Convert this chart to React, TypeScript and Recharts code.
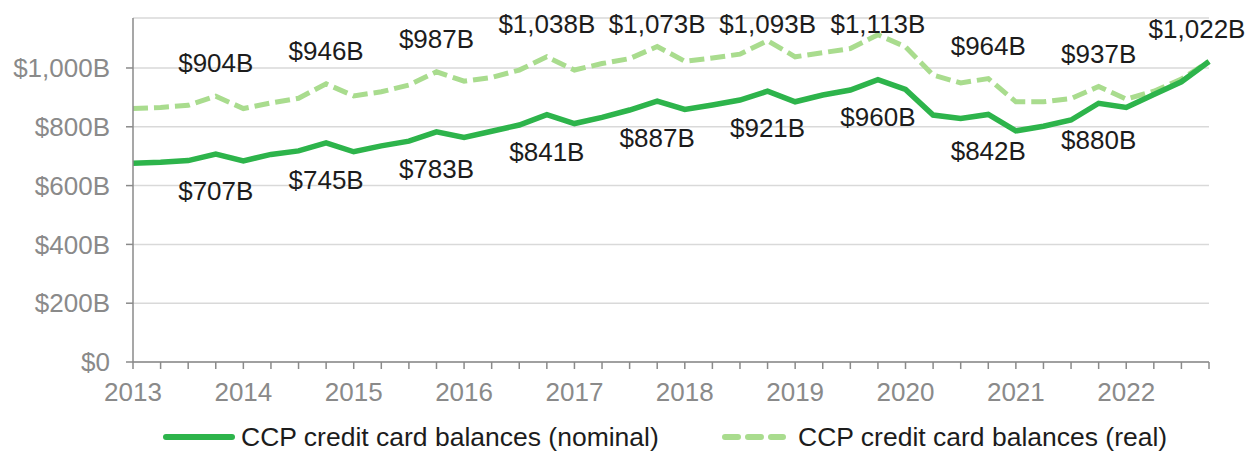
import React from 'react';
import { LineChart, Line, XAxis, YAxis, CartesianGrid, LabelList } from 'recharts';

// Quarterly categories 2013 Q1 .. 2022 Q4
const years = ['2013', '2014', '2015', '2016', '2017', '2018', '2019', '2020', '2021', '2022'];
const quarters = ['Q1', 'Q2', 'Q3', 'Q4'];

// Balances in $ billions
const nominal = [
  676, 679, 685, 707, 684, 706, 718, 745, 715, 735,
  751, 783, 764, 785, 806, 841, 811, 832, 857, 887,
  859, 874, 891, 921, 885, 908, 925, 960, 927, 840,
  828, 842, 786, 802, 823, 880, 866, 910, 953, 1022,
];
const real = [
  862, 866, 873, 904, 862, 881, 897, 946, 905, 919,
  942, 987, 955, 968, 993, 1038, 993, 1015, 1032, 1073,
  1023, 1034, 1047, 1093, 1038, 1052, 1066, 1113, 1072, 976,
  949, 964, 885, 885, 896, 937, 894, 921, 962, 1022,
];

const yTicks = [0, 200, 400, 600, 800, 1000];

const data = years
  .flatMap((y) => quarters.map((q) => `${y} ${q}`))
  .map((q, i) => ({ q, nominal: nominal[i], real: real[i] }));

const FONT = '"Liberation Sans", Arial, sans-serif';
const GREEN = '#2db44b';
const LIGHT = '#a9dc8e';
const AXIS = '#8a8a8a';
const TEXT = '#1c1c1c';

const money = (v: number) => (v === 0 ? '$0' : `$${v.toLocaleString('en-US')}B`);

// year-end (Q4) labels only; labels above are kept inside the top edge
const makeLabel = (pos: 'above' | 'below', skipLast: boolean) => (props: any) => {
  const { x, y, value, index } = props;
  if (index % 4 !== 3) return null;
  if (skipLast && index === data.length - 1) return null;
  const dx = index === data.length - 1 ? -12 : 0;
  const ly = pos === 'above' ? Math.max(y - 33, 24) : y + 37;
  return (
    <text
      x={x + dx}
      y={ly}
      textAnchor="middle"
      dominantBaseline="central"
      fontSize={26}
      fontFamily={FONT}
      fill={TEXT}
    >
      {money(value)}
    </text>
  );
};

const App = () => {
  return (
    <div style={{ position: 'absolute', left: 0, top: 0, width: 1256, height: 452, background: '#fff' }}>
      <LineChart width={1256} height={452} data={data} margin={{ top: 18, right: 47, left: 8, bottom: 60 }}>
        <CartesianGrid horizontal vertical={false} stroke="#d9d9d9" strokeWidth={1.5} />
        <XAxis
          dataKey="q"
          interval={0}
          height={30}
          tickSize={7}
          tickMargin={14}
          stroke={AXIS}
          strokeWidth={1.5}
          tick={{ fontSize: 26, fill: AXIS, fontFamily: FONT }}
          tickFormatter={(v: string) => (v.endsWith('Q1') ? v.slice(0, 4) : '')}
        />
        <YAxis
          width={125}
          domain={[0, 1170]}
          ticks={yTicks}
          tickSize={7}
          tickMargin={16}
          stroke={AXIS}
          strokeWidth={1.5}
          tick={{ fontSize: 26, fill: AXIS, fontFamily: FONT }}
          tickFormatter={money}
        />
        <Line
          type="linear"
          dataKey="real"
          stroke={LIGHT}
          strokeWidth={5}
          strokeDasharray="15 6"
          dot={false}
          activeDot={false}
          isAnimationActive={false}
        >
          <LabelList dataKey="real" content={makeLabel('above', false)} />
        </Line>
        <Line
          type="linear"
          dataKey="nominal"
          stroke={GREEN}
          strokeWidth={5.5}
          dot={false}
          activeDot={false}
          isAnimationActive={false}
        >
          <LabelList dataKey="nominal" content={makeLabel('below', true)} />
        </Line>
      </LineChart>

      {/* Legend */}
      <div style={{ position: 'absolute', left: 0, top: 421, width: 1256, height: 32, fontFamily: FONT, fontSize: 26.5, color: TEXT }}>
        <svg width={72} height={10} style={{ position: 'absolute', left: 163, top: 11 }}>
          <line x1={3} y1={5} x2={69} y2={5} stroke={GREEN} strokeWidth={6} strokeLinecap="round" />
        </svg>
        <span style={{ position: 'absolute', left: 241, top: 0, lineHeight: '32px', whiteSpace: 'nowrap' }}>
          CCP credit card balances (nominal)
        </span>
        <svg width={64} height={10} style={{ position: 'absolute', left: 722, top: 11 }}>
          <line x1={3} y1={5} x2={61} y2={5} stroke={LIGHT} strokeWidth={6} strokeLinecap="round" strokeDasharray="13 10" />
        </svg>
        <span style={{ position: 'absolute', left: 798, top: 0, lineHeight: '32px', whiteSpace: 'nowrap' }}>
          CCP credit card balances (real)
        </span>
      </div>
    </div>
  );
};

export default App;
